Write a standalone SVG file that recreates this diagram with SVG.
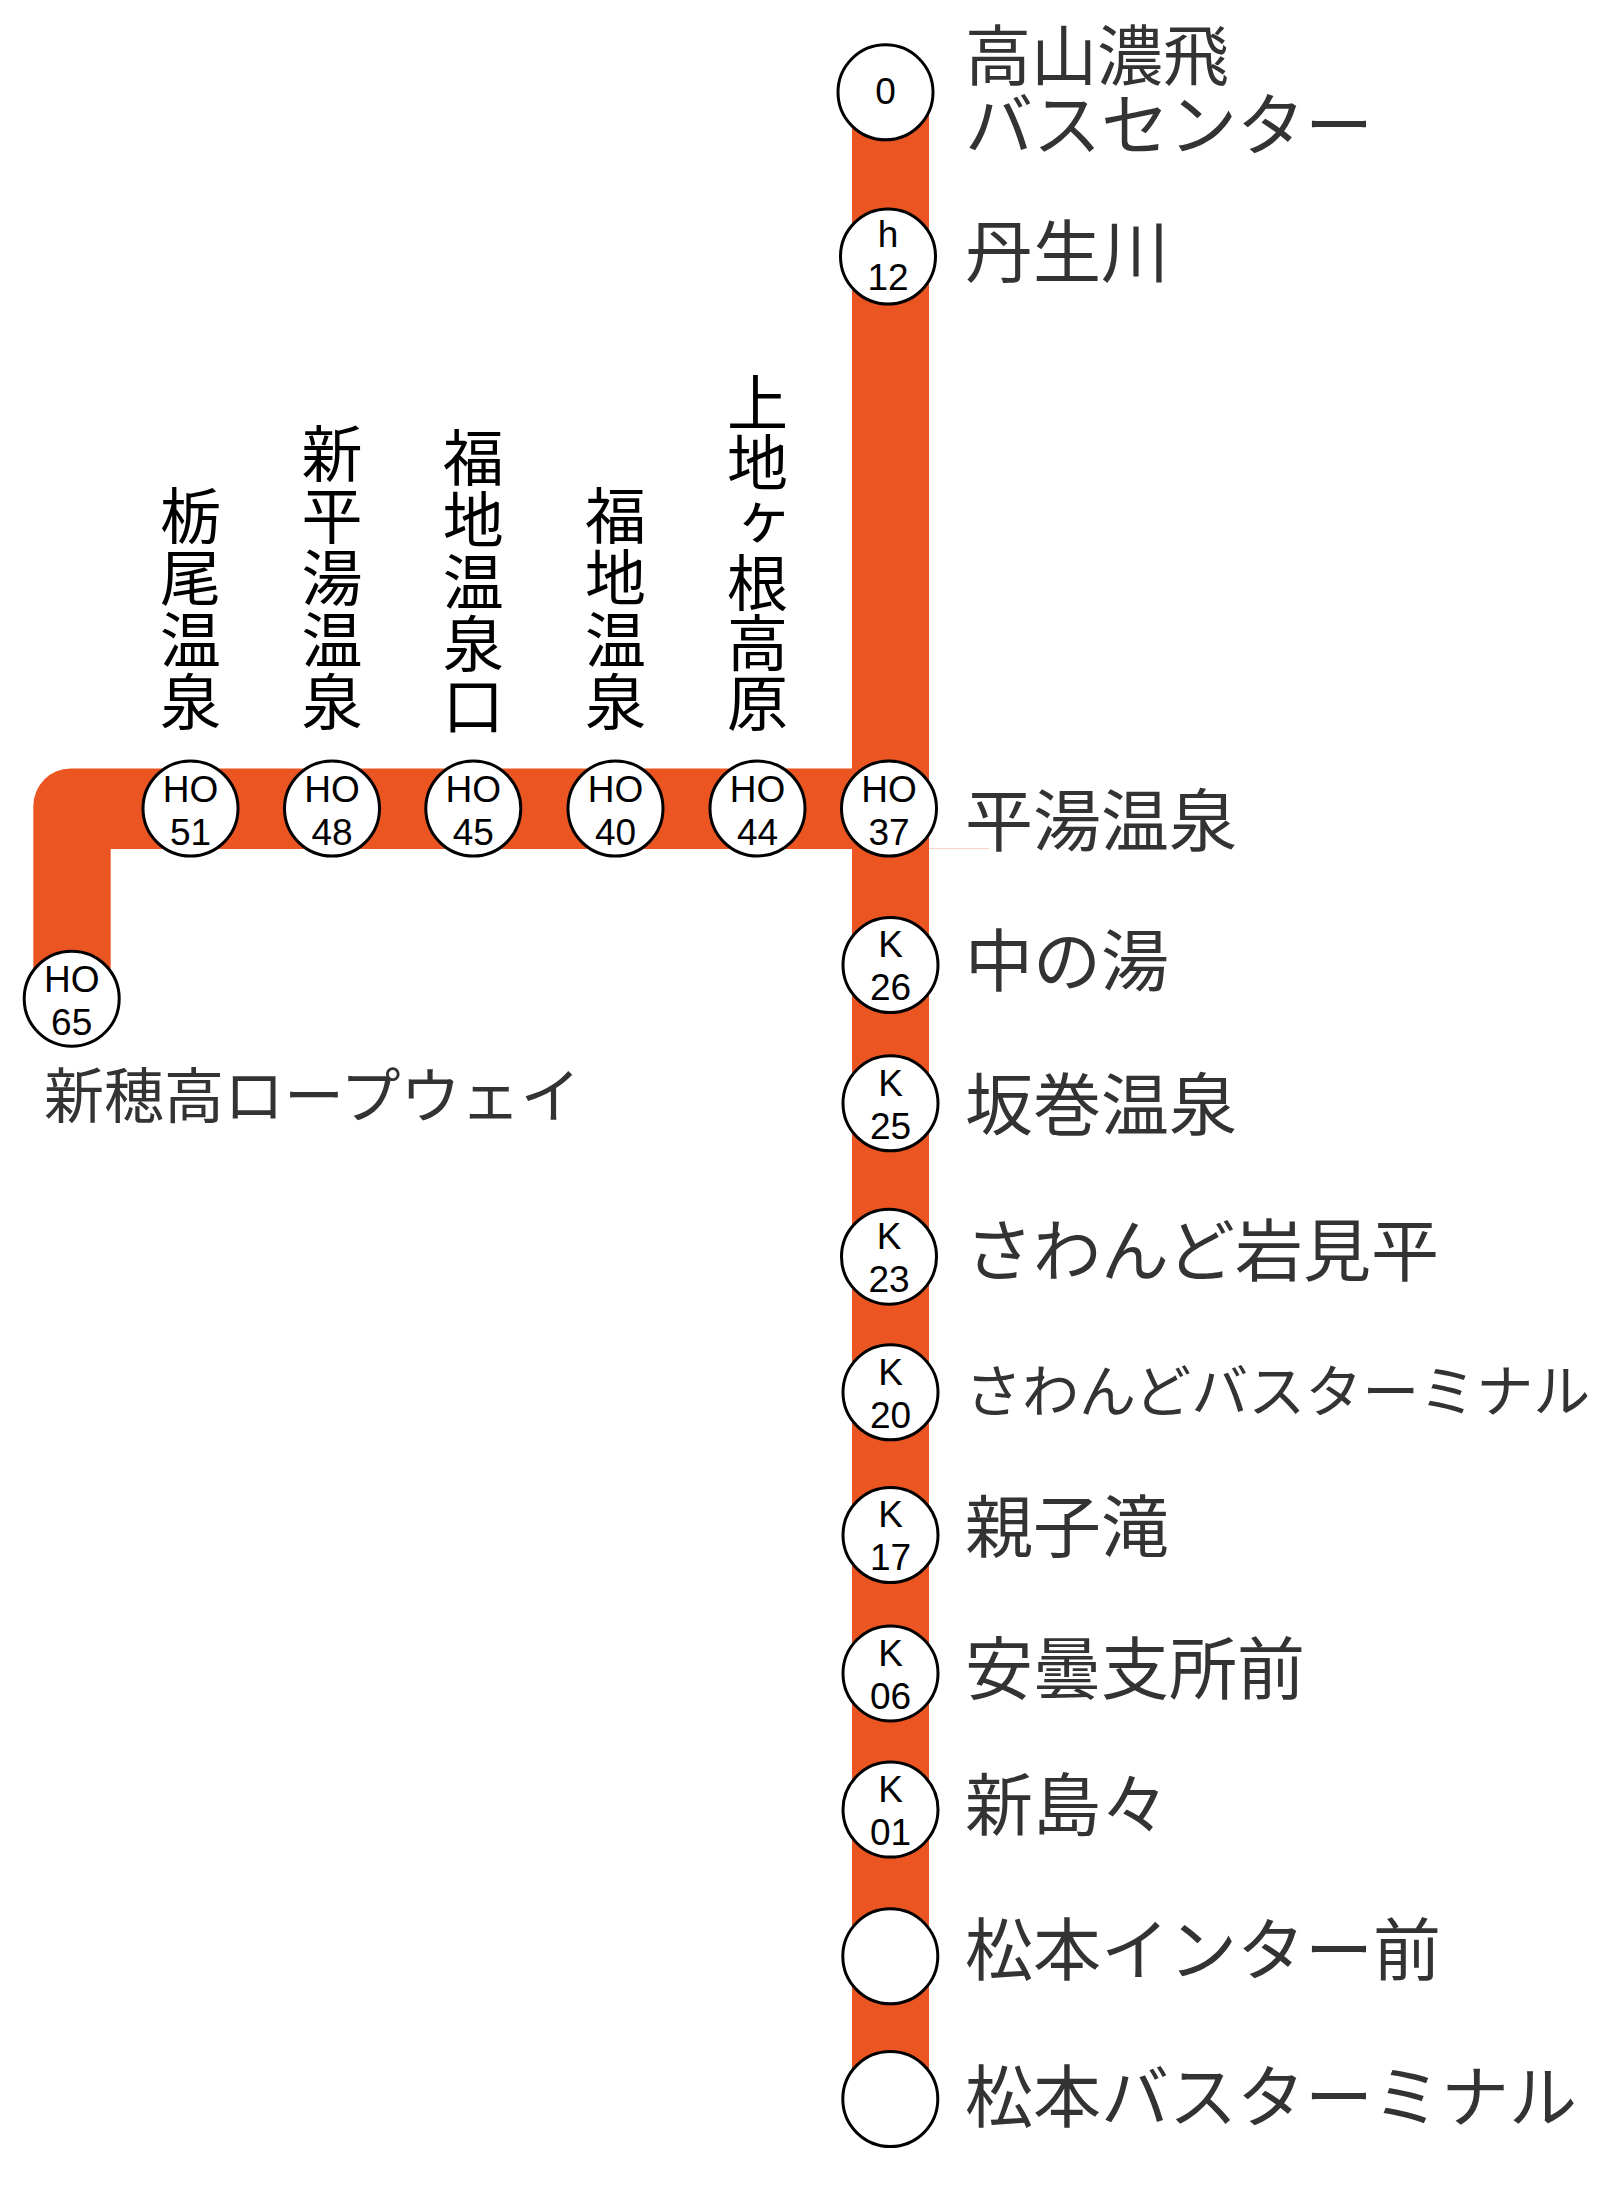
<svg xmlns="http://www.w3.org/2000/svg" width="1610" height="2205" viewBox="0 0 1610 2205">
<style>
.bar{fill:#EA5521}
.st{fill:#fff;stroke:#000;stroke-width:3}
.code{font-family:"Liberation Sans",Arial,sans-serif;font-size:37px;fill:#000;text-anchor:middle}
.lbl{font-family:"Noto Sans CJK JP","Noto Sans",sans-serif;font-size:68px;fill:#333}
.vl{font-family:"Noto Sans CJK JP","Noto Sans",sans-serif;font-size:61px;fill:#000;writing-mode:vertical-rl;text-orientation:upright;letter-spacing:1px}
</style>
<rect width="1610" height="2205" fill="#fff"/>
<g id="connectors">
<rect class="bar" x="852" y="92" width="77" height="2007"/>
<path class="bar" d="M33.3 998 L33.3 806 A37.5 37.5 0 0 1 70.8 768.5 L852 768.5 L852 849 L110.7 849 L110.7 998 Z"/>
<line x1="929" y1="848.5" x2="989" y2="848.5" stroke="#f8d2c2" stroke-width="1"/>
</g>
<g id="n-takayama">
<circle class="st" cx="885.5" cy="92.3" r="47.5"/>
<text class="code" x="885.5" y="104">0</text>
<text class="lbl"><tspan x="965" y="80" style="font-size:66px">高山濃飛</tspan><tspan x="965" y="150">バスセンター</tspan></text>
</g>
<g id="n-nyukawa">
<circle class="st" cx="888" cy="256.5" r="47.5"/>
<text class="code" x="888" y="246.7">h</text>
<text class="code" x="888" y="290">12</text>
<text class="lbl" x="965" y="277">丹生川</text>
</g>
<g id="n-hirayu">
<circle class="st" cx="889" cy="808.5" r="47.5"/>
<text class="code" x="889" y="801.5">HO</text>
<text class="code" x="889" y="845">37</text>
<text class="lbl" x="965" y="846">平湯温泉</text>
</g>
<g id="n-kamitakara">
<circle class="st" cx="757.5" cy="808.5" r="47.5"/>
<text class="code" x="757.5" y="801.5">HO</text>
<text class="code" x="757.5" y="845">44</text>
<text class="vl" x="757.5" y="372" style="letter-spacing:-1px">上地ヶ根高原</text>
</g>
<g id="n-fukuji">
<circle class="st" cx="615.5" cy="808.5" r="47.5"/>
<text class="code" x="615.5" y="801.5">HO</text>
<text class="code" x="615.5" y="845">40</text>
<text class="vl" x="615.5" y="485">福地温泉</text>
</g>
<g id="n-fukujiguchi">
<circle class="st" cx="473.3" cy="808.5" r="47.5"/>
<text class="code" x="473.3" y="801.5">HO</text>
<text class="code" x="473.3" y="845">45</text>
<text class="vl" x="473.3" y="427">福地温泉口</text>
</g>
<g id="n-shinhirayu">
<circle class="st" cx="332" cy="808.5" r="47.5"/>
<text class="code" x="332" y="801.5">HO</text>
<text class="code" x="332" y="845">48</text>
<text class="vl" x="332" y="423">新平湯温泉</text>
</g>
<g id="n-tochio">
<circle class="st" cx="190.5" cy="808.5" r="47.5"/>
<text class="code" x="190.5" y="801.5">HO</text>
<text class="code" x="190.5" y="845">51</text>
<text class="vl" x="190.5" y="485">栃尾温泉</text>
</g>
<g id="n-shinhotaka">
<circle class="st" cx="71.7" cy="998.7" r="47.5"/>
<text class="code" x="71.7" y="991.7">HO</text>
<text class="code" x="71.7" y="1035">65</text>
<text class="lbl" x="44" y="1118" style="font-size:60px">新穂高ロープウェイ</text>
</g>
<g id="n-nakanoyu">
<circle class="st" cx="890.5" cy="965" r="47.5"/>
<text class="code" x="890.5" y="957">K</text>
<text class="code" x="890.5" y="1000">26</text>
<text class="lbl" x="965" y="986">中の湯</text>
</g>
<g id="n-sakamaki">
<circle class="st" cx="890.5" cy="1103.3" r="47.5"/>
<text class="code" x="890.5" y="1095.5">K</text>
<text class="code" x="890.5" y="1138.5">25</text>
<text class="lbl" x="965" y="1130">坂巻温泉</text>
</g>
<g id="n-sawando-iwamidaira">
<circle class="st" cx="889" cy="1256.7" r="47.5"/>
<text class="code" x="889" y="1249">K</text>
<text class="code" x="889" y="1292">23</text>
<text class="lbl" x="965" y="1276">さわんど岩見平</text>
</g>
<g id="n-sawando-bt">
<circle class="st" cx="890.5" cy="1392.3" r="47.5"/>
<text class="code" x="890.5" y="1384.5">K</text>
<text class="code" x="890.5" y="1427.5">20</text>
<text class="lbl" x="965" y="1412" style="font-size:57px">さわんどバスターミナル</text>
</g>
<g id="n-oyakodaki">
<circle class="st" cx="890.5" cy="1535" r="47.5"/>
<text class="code" x="890.5" y="1527">K</text>
<text class="code" x="890.5" y="1570">17</text>
<text class="lbl" x="965" y="1552">親子滝</text>
</g>
<g id="n-azumi">
<circle class="st" cx="890.5" cy="1673.4" r="47.5"/>
<text class="code" x="890.5" y="1665.5">K</text>
<text class="code" x="890.5" y="1708.5">06</text>
<text class="lbl" x="965" y="1694">安曇支所前</text>
</g>
<g id="n-shinshimashima">
<circle class="st" cx="890.5" cy="1809.6" r="47.5"/>
<text class="code" x="890.5" y="1801.5">K</text>
<text class="code" x="890.5" y="1844.5">01</text>
<text class="lbl" x="965" y="1830">新島々</text>
</g>
<g id="n-matsumoto-ic">
<circle class="st" cx="890.3" cy="1956.3" r="47.5"/>
<text class="lbl" x="965" y="1975">松本インター前</text>
</g>
<g id="n-matsumoto-bt">
<circle class="st" cx="890.3" cy="2099" r="47.5"/>
<text class="lbl" x="965" y="2122">松本バスターミナル</text>
</g>
</svg>
